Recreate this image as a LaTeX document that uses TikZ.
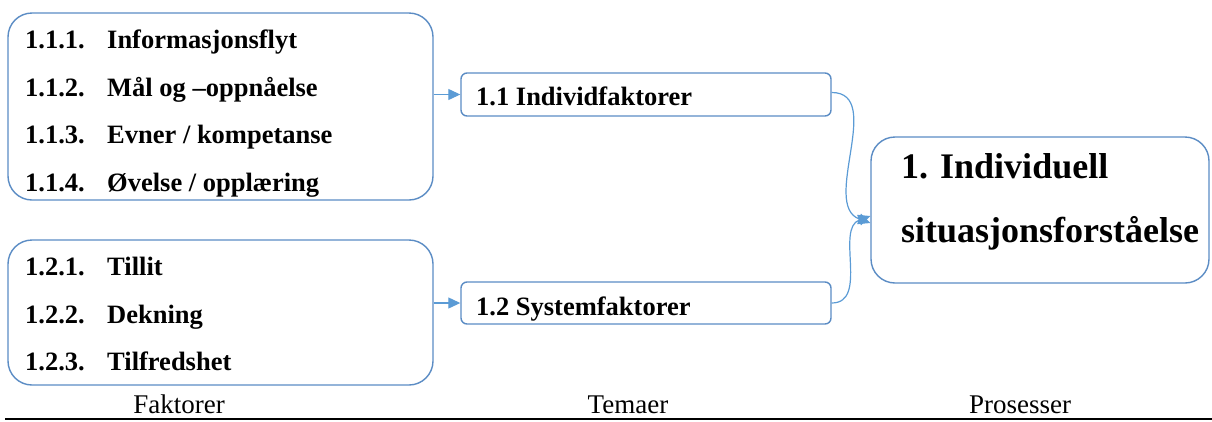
\documentclass[tikz,border=0pt]{standalone}
\usepackage{fontspec}
\setmainfont{Liberation Serif}
\usetikzlibrary{arrows.meta}
\definecolor{frameblue}{HTML}{5B8CC4}
\definecolor{linkblue}{HTML}{5B9BD5}
\tikzset{
  bigbox/.style={draw=frameblue, line width=1.4pt, rounded corners=24pt, inner sep=0pt},
  smallbox/.style={draw=frameblue, line width=1.4pt, rounded corners=6pt, inner sep=0pt},
  item/.style={anchor=base west, inner sep=0pt, font=\fontsize{26.5}{30}\selectfont\bfseries},
  title/.style={anchor=base west, inner sep=0pt, font=\fontsize{36}{40}\selectfont\bfseries},
  caption/.style={anchor=base, inner sep=0pt, font=\fontsize{27}{30}\selectfont},
  link/.style={draw=linkblue, line width=1.2pt, -{Triangle[length=12pt,width=11pt]}}
}
\begin{document}
\begin{tikzpicture}[x=1pt,y=-1pt]
\useasboundingbox (0,0) rectangle (1212,421);

% factor boxes
\node[bigbox, minimum width=425pt, minimum height=187pt] (f1) at (220.5,106.5) {};
\node[bigbox, minimum width=425pt, minimum height=145pt] (f2) at (220.5,312.5) {};

% theme boxes
\node[smallbox, minimum width=370pt, minimum height=43pt] (t1) at (646,94.5) {};
\node[smallbox, minimum width=370pt, minimum height=42pt] (t2) at (646,303) {};

% process box
\node[bigbox, minimum width=338pt, minimum height=146pt] (p1) at (1040,210) {};

% factor items
\node[item] (n111) at (25,48) {1.1.1.};
\node[item] (l111) at (107,48) {Informasjonsflyt};
\node[item] (n112) at (25,96) {1.1.2.};
\node[item] (l112) at (107,96) {Mål og –oppnåelse};
\node[item] (n113) at (25,143) {1.1.3.};
\node[item] (l113) at (107,143) {Evner / kompetanse};
\node[item] (n114) at (25,191) {1.1.4.};
\node[item] (l114) at (107,191) {Øvelse / opplæring};

\node[item] (n121) at (25,275) {1.2.1.};
\node[item] (l121) at (107,275) {Tillit};
\node[item] (n122) at (25,323) {1.2.2.};
\node[item] (l122) at (107,323) {Dekning};
\node[item] (n123) at (25,370) {1.2.3.};
\node[item] (l123) at (107,370) {Tilfredshet};

% theme labels
\node[item] (lt1) at (476,105) {1.1 Individfaktorer};
\node[item] (lt2) at (476,315) {1.2 Systemfaktorer};

% process label
\node[title] (lp1) at (901,178) {1. Individuell};
\node[title] (lp2) at (901,242) {situasjonsforståelse};

% connectors
\draw[link] (f1.east |- t1.west) -- (t1.west);
\draw[link] (f2.east |- t2.west) -- (t2.west);
\coordinate (in1) at ([yshift=-13pt]p1.west);
\coordinate (in2) at ([yshift=-6pt]p1.west);
\coordinate (o1) at ([yshift=2pt]t1.east);
\draw[link] (o1) to[out=0,in=160] (in1);
\draw[link] (t2.east) to[out=0,in=200] (in2);

% column captions and rule
\coordinate (r0) at (5,419);
\coordinate (r1) at (1212,419);
\draw[line width=1.8pt] (r0) -- (r1);
\node[caption] (c1) at (179,413) {Faktorer};
\node[caption] (c2) at (628,413) {Temaer};
\node[caption] (c3) at (1020,413) {Prosesser};
\end{tikzpicture}
\end{document}
